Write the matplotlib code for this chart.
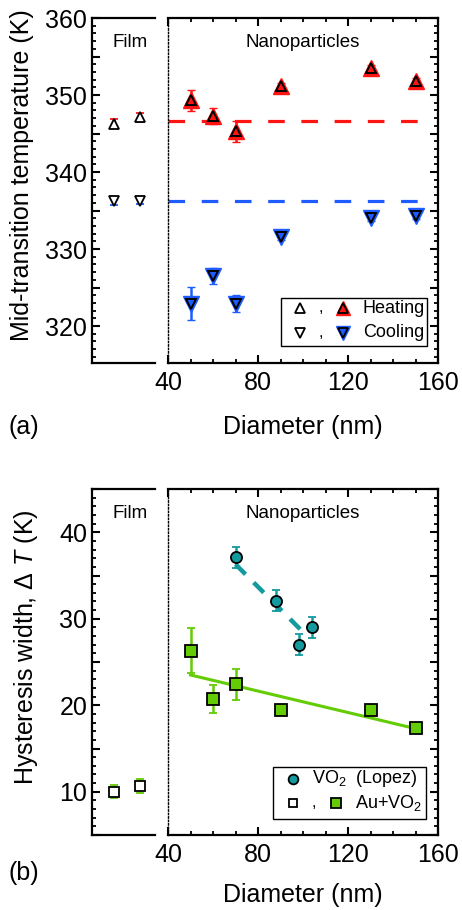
import matplotlib
matplotlib.use("Agg")
import matplotlib.pyplot as plt
from matplotlib.ticker import MultipleLocator, FuncFormatter, NullLocator
from matplotlib.patches import Rectangle

plt.rcParams['font.family'] = ['Liberation Sans', 'DejaVu Sans']
plt.rcParams['mathtext.fontset'] = 'custom'
plt.rcParams['mathtext.rm'] = 'Liberation Sans'
plt.rcParams['mathtext.it'] = 'Liberation Sans:italic'

# ---------------- data ----------------
film_x = [1, 2]
film_heat = [346.3, 347.1]
film_heat_err = [0.55, 0.55]
film_cool = [336.2, 336.3]
film_cool_err = [0.45, 0.45]

np_diam = [50, 60, 70, 90, 130, 150]
np_heat = [349.3, 347.3, 345.3, 351.2, 353.5, 351.8]
np_heat_err = [1.4, 1.0, 1.35, 0.4, 0.4, 0.4]
np_cool = [322.9, 326.5, 322.9, 331.6, 334.0, 334.3]
np_cool_err = [2.15, 1.1, 1.1, 0.4, 0.4, 0.4]

heat_ref = 346.6
cool_ref = 336.3
ref_x = [40, 155]

film_hyst = [10.0, 10.7]
film_hyst_err = [0.75, 0.8]

lopez_diam = [70, 88, 98, 104]
lopez_hyst = [37.1, 32.1, 27.0, 29.0]
lopez_err = [1.2, 1.2, 1.2, 1.2]
lopez_fit_x = [70, 101]
lopez_fit_y = [36.3, 28.2]

au_diam = [50, 60, 70, 90, 130, 150]
au_hyst = [26.3, 20.7, 22.4, 19.4, 19.4, 17.4]
au_err = [2.6, 1.6, 1.75, 0.3, 0.3, 0.3]
au_fit_x = [50, 150]
au_fit_y = [23.5, 17.3]

RED = '#ff1414'
BLUE = '#1f5cff'
TEAL = '#139a9e'
GREEN = '#63cc05'

W, H = 462, 910
fig = plt.figure(figsize=(W / 100, H / 100), dpi=100)


def ax_rect(x0, y0, x1, y1):
    return [x0 / W, 1 - y1 / H, (x1 - x0) / W, (y1 - y0) / H]


def style_film(ax, ylim, major, labelstep):
    ax.set_xlim(0.15, 2.6)
    ax.set_ylim(*ylim)
    ax.spines['right'].set_visible(False)
    for s in ['left', 'top', 'bottom']:
        ax.spines[s].set_linewidth(1.6)
    ax.xaxis.set_major_locator(NullLocator())
    ax.xaxis.set_minor_locator(NullLocator())
    ax.yaxis.set_major_locator(MultipleLocator(major))
    ax.yaxis.set_minor_locator(MultipleLocator(1))
    ax.yaxis.set_major_formatter(FuncFormatter(
        lambda v, p: f"{v:.0f}" if abs(v / labelstep - round(v / labelstep)) < 1e-6 else ""))
    ax.tick_params(axis='y', which='both', direction='in', left=True, right=False,
                   labelsize=18, pad=3.5)
    ax.tick_params(axis='y', which='major', length=6, width=1.5)
    ax.tick_params(axis='y', which='minor', length=3, width=1.3)


def style_np(ax, ylim, major):
    ax.set_xlim(40, 160)
    ax.set_ylim(*ylim)
    ax.spines['left'].set_linestyle((0, (1, 1.5)))
    ax.spines['left'].set_linewidth(1.0)
    for s in ['right', 'top', 'bottom']:
        ax.spines[s].set_linewidth(1.6)
    ax.xaxis.set_major_locator(MultipleLocator(40))
    ax.xaxis.set_minor_locator(MultipleLocator(10))
    ax.yaxis.set_major_locator(MultipleLocator(major))
    ax.yaxis.set_minor_locator(MultipleLocator(1))
    ax.tick_params(axis='x', which='both', direction='in', top=True, bottom=True,
                   labelsize=18, pad=6)
    ax.tick_params(axis='y', which='both', direction='in', left=False, right=True,
                   labelleft=False)
    ax.tick_params(which='major', length=6, width=1.5)
    ax.tick_params(which='minor', length=3, width=1.3)


eb_kw = dict(linestyle='none', capsize=2.6, elinewidth=1.8, capthick=1.8)

# ================= panel (a) =================
axf = fig.add_axes(ax_rect(92, 18, 155, 363))
axn = fig.add_axes(ax_rect(168, 18, 438, 363))
style_film(axf, (315.2, 360), 5, 10)
style_np(axn, (315.2, 360), 5)

axf.errorbar(film_x, film_heat, yerr=film_heat_err, ecolor=RED, marker='^', ms=7.5,
             mfc='white', mec='black', mew=1.3, zorder=3, **eb_kw)
axf.errorbar(film_x, film_cool, yerr=film_cool_err, ecolor=BLUE, marker='v', ms=7.5,
             mfc='white', mec='black', mew=1.3, zorder=3, **eb_kw)

axn.plot(ref_x, [heat_ref, heat_ref], color=RED, lw=2.3, dashes=(5.2, 5.2), zorder=1)
axn.plot(ref_x, [cool_ref, cool_ref], color=BLUE, lw=2.3, dashes=(5.2, 5.2), zorder=1)
axn.errorbar(np_diam, np_heat, yerr=np_heat_err, ecolor=RED, marker='^', ms=11,
             mfc=RED, mec=RED, mew=1.0, zorder=3, **eb_kw)
axn.plot(np_diam, np_heat, linestyle='none', marker='^', ms=7.5, mfc=RED, mec='black',
         mew=1.4, zorder=4)
axn.errorbar(np_diam, np_cool, yerr=np_cool_err, ecolor=BLUE, marker='v', ms=11,
             mfc=BLUE, mec=BLUE, mew=1.0, zorder=3, **eb_kw)
axn.plot(np_diam, np_cool, linestyle='none', marker='v', ms=7.5, mfc=BLUE, mec='black',
         mew=1.4, zorder=4)

axf.text(0.6, 0.93, 'Film', transform=axf.transAxes, ha='center', va='center', fontsize=13.5)
axn.text(0.5, 0.93, 'Nanoparticles', transform=axn.transAxes, ha='center', va='center',
         fontsize=13.5)

# legend (a)
axn.add_patch(Rectangle((0.419, 0.049), 0.54, 0.139, transform=axn.transAxes,
                        facecolor='white', edgecolor='black', lw=1.0, zorder=5))
for yy, mk, col, lab in [(0.159, '^', RED, 'Heating'), (0.087, 'v', BLUE, 'Cooling')]:
    axn.plot([0.489], [yy], transform=axn.transAxes, marker=mk, ms=7, mfc='white',
             mec='black', mew=1.3, zorder=6, clip_on=False)
    axn.text(0.567, yy + 0.002, ',', transform=axn.transAxes, ha='center', va='center',
             fontsize=12, zorder=6)
    axn.plot([0.647], [yy], transform=axn.transAxes, marker=mk, ms=9.5, mfc=col,
             mec=col, zorder=6)
    axn.plot([0.647], [yy], transform=axn.transAxes, marker=mk, ms=6.5, mfc=col,
             mec='black', mew=1.3, zorder=7)
    axn.text(0.721, yy, lab, transform=axn.transAxes, ha='left', va='center',
             fontsize=13, zorder=7)

fig.text(22 / W, 1 - 175 / H, 'Mid-transition temperature (K)', rotation=90,
         ha='center', va='center', fontsize=18)
fig.text(303 / W, 1 - 427 / H, 'Diameter (nm)', ha='center', va='center', fontsize=18)
fig.text(9 / W, 1 - 427 / H, '(a)', ha='left', va='center', fontsize=18)

# ================= panel (b) =================
bxf = fig.add_axes(ax_rect(92, 489, 155, 835))
bxn = fig.add_axes(ax_rect(168, 489, 438, 835))
style_film(bxf, (5, 45), 5, 10)
style_np(bxn, (5, 45), 5)

bxf.errorbar(film_x, film_hyst, yerr=film_hyst_err, ecolor=GREEN, marker='s', ms=6.5,
             mfc='white', mec='black', mew=1.3, zorder=3, **eb_kw)

bxn.plot(lopez_fit_x, lopez_fit_y, color=TEAL, lw=3.2, dashes=(3.2, 2.6), zorder=2)
bxn.plot(au_fit_x, au_fit_y, color=GREEN, lw=2.2, zorder=2)
bxn.errorbar(lopez_diam, lopez_hyst, yerr=lopez_err, ecolor=TEAL, marker='o', ms=8,
             mfc=TEAL, mec='black', mew=1.3, zorder=3, **eb_kw)
bxn.errorbar(au_diam, au_hyst, yerr=au_err, ecolor=GREEN, marker='s', ms=8,
             mfc=GREEN, mec='black', mew=1.3, zorder=3, **eb_kw)

bxf.text(0.6, 0.93, 'Film', transform=bxf.transAxes, ha='center', va='center', fontsize=13.5)
bxn.text(0.5, 0.93, 'Nanoparticles', transform=bxn.transAxes, ha='center', va='center',
         fontsize=13.5)

# legend (b)
bxn.add_patch(Rectangle((0.39, 0.046), 0.567, 0.15, transform=bxn.transAxes,
                        facecolor='white', edgecolor='black', lw=1.0, zorder=5))
bxn.plot([0.464], [0.162], transform=bxn.transAxes, marker='o', ms=7, mfc=TEAL,
         mec='black', mew=1.3, zorder=6)
bxn.text(0.532, 0.162, r'VO$_2$  (Lopez)', transform=bxn.transAxes, ha='left',
         va='center', fontsize=13, zorder=6)
bxn.plot([0.464], [0.092], transform=bxn.transAxes, marker='s', ms=6, mfc='white',
         mec='black', mew=1.3, zorder=6)
bxn.text(0.541, 0.094, ',', transform=bxn.transAxes, ha='center', va='center',
         fontsize=12, zorder=6)
bxn.plot([0.621], [0.092], transform=bxn.transAxes, marker='s', ms=6.5, mfc=GREEN,
         mec='black', mew=1.3, zorder=6)
bxn.text(0.693, 0.092, r'Au+VO$_2$', transform=bxn.transAxes, ha='left',
         va='center', fontsize=13, zorder=6)

fig.text(26 / W, 1 - 647 / H, r'Hysteresis width, $\Delta\ T$ (K)', rotation=90,
         ha='center', va='center', fontsize=18)
fig.text(303 / W, 1 - 895 / H, 'Diameter (nm)', ha='center', va='center', fontsize=18)
fig.text(9 / W, 1 - 873 / H, '(b)', ha='left', va='center', fontsize=18)

fig.savefig('out.png', dpi=100)
